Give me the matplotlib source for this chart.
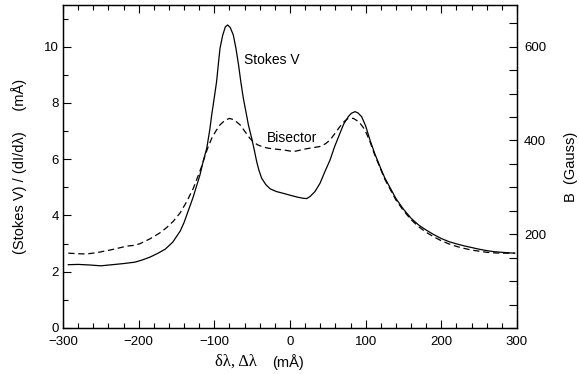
import matplotlib
matplotlib.use("Agg")
import matplotlib.pyplot as plt
from matplotlib.ticker import MultipleLocator, FixedLocator

plt.rcParams['font.family'] = ['Liberation Sans', 'DejaVu Sans']

# Stokes V ratio (solid)
x_stokes = [-293, -280, -265, -250, -235, -220, -205, -195, -185, -175, -165, -155,
            -150, -145, -140, -136, -132, -128, -124, -119, -114.5, -110, -106, -103.5,
            -100, -97, -95, -92.5, -89, -85.5, -82.5, -79, -75, -71.5, -68, -65, -61.7,
            -58, -55, -50.6, -47, -44, -41, -37.4, -32, -26.4, -18, -8, 0, 10, 17.6, 22,
            26.4, 33, 39.6, 46, 52.9, 59, 66, 71, 77, 81, 86, 90, 94.7, 100, 105.7, 112,
            119, 125, 132, 140, 150, 160, 170, 180, 190, 200, 210, 220, 230, 240, 250,
            260, 270, 280, 290, 297]
y_stokes = [2.25, 2.26, 2.24, 2.21, 2.25, 2.29, 2.34, 2.42, 2.52, 2.65, 2.8, 3.05,
            3.25, 3.45, 3.75, 4.05, 4.35, 4.65, 5.0, 5.44, 5.95, 6.39, 7.05, 7.57,
            8.2, 8.76, 9.3, 9.94, 10.4, 10.7, 10.77, 10.68, 10.42, 9.95, 9.35, 8.75, 8.17,
            7.65, 7.22, 6.74, 6.3, 5.91, 5.6, 5.32, 5.1, 4.95, 4.85, 4.78, 4.72, 4.65, 4.61, 4.6,
            4.67, 4.85, 5.14, 5.55, 5.97, 6.45, 6.92, 7.25, 7.51, 7.63, 7.69, 7.64, 7.51, 7.18, 6.68, 6.2,
            5.73, 5.35, 5.0, 4.6, 4.22, 3.9, 3.66, 3.48, 3.32, 3.18, 3.07, 2.99, 2.92, 2.86, 2.8,
            2.75, 2.71, 2.69, 2.67, 2.66]

# Bisector (dashed)
x_bis = [-293, -280, -269, -255, -238, -225, -216, -205, -198, -185, -172, -163,
         -154, -145, -136.5, -127.7, -121, -116, -112, -108, -103.5, -98, -92.5, -86,
         -80, -74, -66, -60, -53, -47, -42, -35, -28.7, -20, -8.8, 0, 4.4, 10, 17.6,
         28, 39.6, 47, 52.9, 59, 66, 72, 77, 83.7, 88, 92.5, 97, 101, 106, 112, 119,
         125, 132, 140, 150, 160, 170, 180, 190, 200, 210, 220, 230, 240, 250, 260,
         270, 280, 290, 297]
y_bis = [2.66, 2.64, 2.63, 2.68, 2.77, 2.85, 2.91, 2.94, 3.0, 3.17, 3.38, 3.57,
         3.8, 4.1, 4.49, 4.97, 5.44, 5.8, 6.15, 6.45, 6.74, 7.0, 7.22, 7.38,
         7.45, 7.4, 7.22, 7.0, 6.74, 6.58, 6.5, 6.43, 6.39, 6.36, 6.33, 6.29, 6.27, 6.3, 6.35,
         6.4, 6.45, 6.55, 6.68, 6.9, 7.16, 7.35, 7.45, 7.45, 7.38, 7.28, 7.12, 6.92, 6.6, 6.15, 5.7,
         5.3, 4.95, 4.55, 4.17, 3.85, 3.6, 3.4, 3.24, 3.1, 2.99, 2.9, 2.83, 2.77, 2.73, 2.69,
         2.67, 2.66, 2.66, 2.66]

x_ticks = [-300, -200, -100, 0, 100, 200, 300]
y_ticks = [0, 2, 4, 6, 8, 10]
b_ticks = [200, 400, 600]

fig = plt.figure(figsize=(5.79, 3.74), dpi=100)
ax = fig.add_axes([63/579, 1-328/374, (517-63)/579, (328-5)/374])

ax.plot(x_stokes, y_stokes, color='black', lw=0.9)
ax.plot(x_bis, y_bis, color='black', lw=0.9, dashes=(5, 3))

ax.set_xlim(-300, 300)
ax.set_ylim(0, 11.48)
ax.xaxis.set_major_locator(FixedLocator(x_ticks))
ax.xaxis.set_minor_locator(MultipleLocator(20))
ax.yaxis.set_major_locator(FixedLocator(y_ticks))
ax.yaxis.set_minor_locator(MultipleLocator(1))
ax.set_xticklabels([str(v).replace('-', '\u2212') for v in x_ticks])
ax.tick_params(which='both', direction='in', top=True, right=False, labelsize=9.5, width=0.8)
ax.tick_params(which='major', length=6)
ax.tick_params(which='minor', length=3.5)
ax.tick_params(axis='x', pad=6)
ax.tick_params(axis='y', pad=3)

ax2 = ax.twinx()
ax2.set_ylim(0, 11.48 * 60)
ax2.yaxis.set_major_locator(FixedLocator(b_ticks))
ax2.yaxis.set_minor_locator(MultipleLocator(50))
ax2.tick_params(which='both', direction='in', length=6, width=0.8, labelsize=9.5, pad=5)
ax2.set_ylabel('B  (Gauss)', fontsize=10.5, labelpad=13)

for a in (ax, ax2):
    for s in a.spines.values():
        s.set_linewidth(0.9)

ax.set_ylabel('(Stokes V) / (dI/d\u03bb)     (m\u00c5)', fontsize=10.5, labelpad=12)

ax.annotate('Stokes V', xy=(-61, 9.53), xycoords='data', fontsize=10, va='center', ha='left')
ax.annotate('Bisector', xy=(-30, 6.75), xycoords='data', fontsize=10, va='center', ha='left')

fig.text(215/579, 1-362/374, '\u03b4\u03bb, \u0394\u03bb', fontsize=12,
         family=['Liberation Serif', 'DejaVu Serif'], va='center', ha='left')
fig.text(272/579, 1-362/374, '(m\u00c5)', fontsize=10.5, va='center', ha='left')

fig.savefig('out.png', dpi=100)
